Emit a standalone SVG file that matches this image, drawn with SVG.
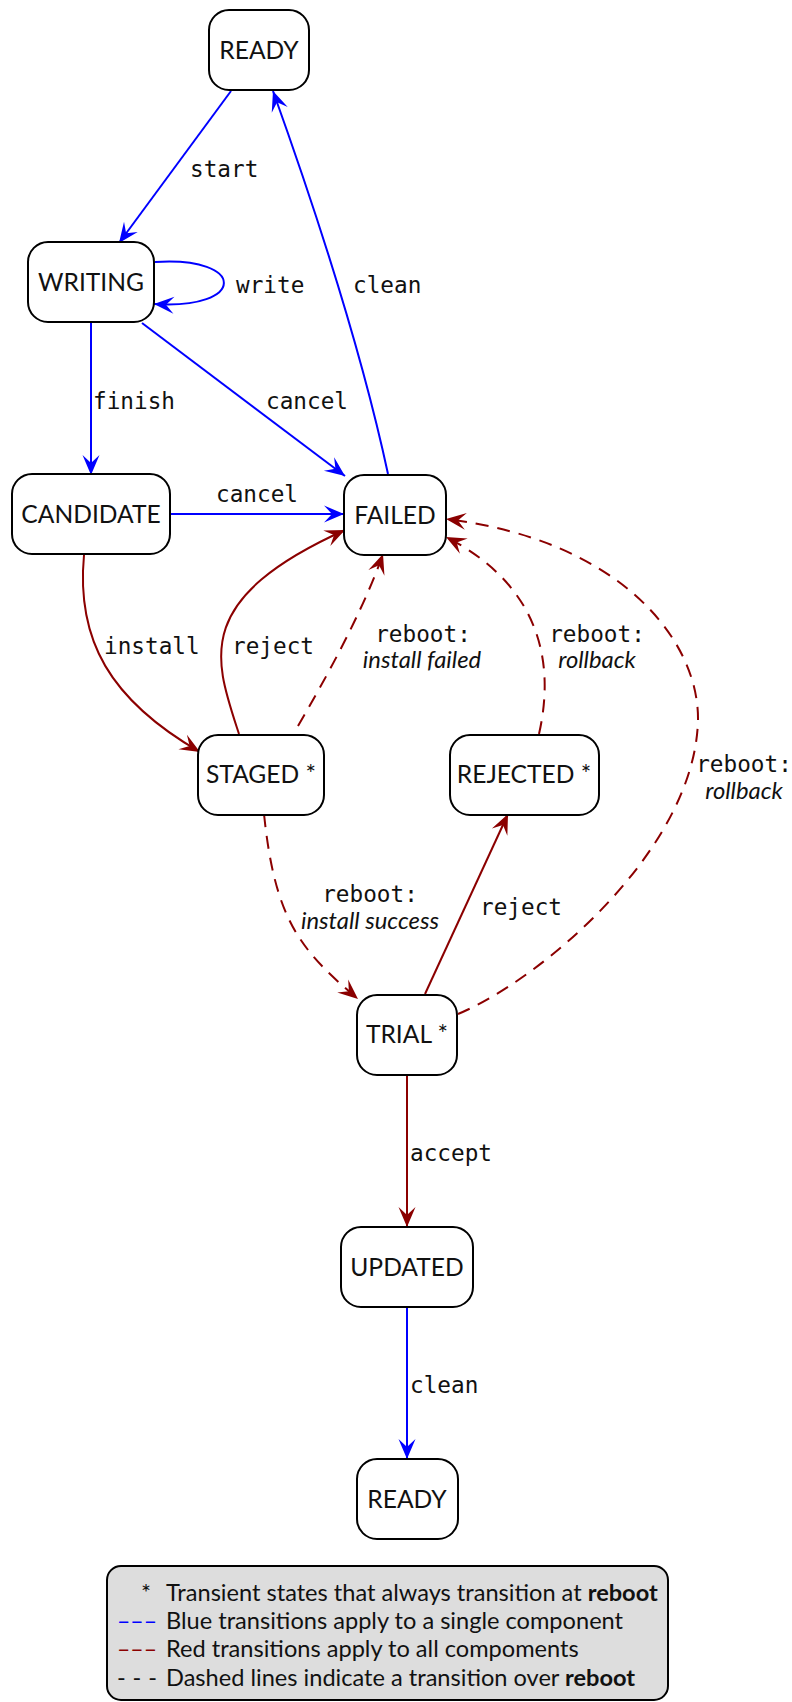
<svg xmlns="http://www.w3.org/2000/svg" width="792" height="1702" viewBox="0 0 792 1702">
<style>
.node rect{fill:#fff;stroke:#000;stroke-width:2}
.node text{font-family:Lato,"Liberation Sans",sans-serif;font-size:24.6px;text-anchor:middle;fill:#111}
.e{fill:none;stroke-width:2}
.b{stroke:#0000ff}
.r{stroke:#8b0000}
.d{stroke-dasharray:13,9}
.lbl{font-family:"DejaVu Sans Mono",monospace;font-size:22.7px;fill:#111}
.it{font-family:Lato,"Liberation Sans",sans-serif;font-style:italic;font-size:23.8px;fill:#111}
.c{text-anchor:middle}
.leg{font-family:Lato,"Liberation Sans",sans-serif;font-size:23.6px;fill:#111}
</style>
<defs>
<marker id="ab" viewBox="-22 -10 24 20" markerWidth="24" markerHeight="20" refX="0" refY="0" orient="auto" markerUnits="userSpaceOnUse"><path d="M0,0 L-20,-8.5 L-12,0 L-20,8.5 Z" fill="#0000ff"/></marker>
<marker id="ar" viewBox="-22 -10 24 20" markerWidth="24" markerHeight="20" refX="0" refY="0" orient="auto" markerUnits="userSpaceOnUse"><path d="M0,0 L-20,-8.5 L-12,0 L-20,8.5 Z" fill="#8b0000"/></marker>
</defs>
<g id="connectors">
<path class="e b" d="M231,91 L119,243" marker-end="url(#ab)"/>
<path class="e b" d="M155,262 C247,256 247,310 154,304" marker-end="url(#ab)"/>
<path class="e b" d="M388,474 Q355,320 273,91" marker-end="url(#ab)"/>
<path class="e b" d="M91,323 L91,475" marker-end="url(#ab)"/>
<path class="e b" d="M142,323 L345,476" marker-end="url(#ab)"/>
<path class="e b" d="M170,514 L344,514" marker-end="url(#ab)"/>
<path class="e r" d="M84,555 C76,640 110,700 200,752" marker-end="url(#ar)"/>
<path class="e r" d="M239,734 C215,660 190,600 345,530" marker-end="url(#ar)"/>
<path class="e r d" d="M298,726 Q360,620 383,554" marker-end="url(#ar)"/>
<path class="e r d" d="M539,734 C558,650 530,580 446,537" marker-end="url(#ar)"/>
<path class="e r d" d="M458,1014 C540,980 695,850 698,720 C699,640 620,540 446,519" marker-end="url(#ar)"/>
<path class="e r d" d="M264,814 C275,920 300,950 358,999" marker-end="url(#ar)"/>
<path class="e r" d="M425,994 L508,814" marker-end="url(#ar)"/>
<path class="e r" d="M407,1075 L407,1227" marker-end="url(#ar)"/>
<path class="e b" d="M407,1307 L407,1459" marker-end="url(#ab)"/>
<text class="lbl" x="190" y="177">start</text>
<text class="lbl" x="236" y="293">write</text>
<text class="lbl" x="353" y="293">clean</text>
<text class="lbl" x="93" y="409">finish</text>
<text class="lbl" x="266" y="409">cancel</text>
<text class="lbl" x="216" y="502">cancel</text>
<text class="lbl" x="104" y="654">install</text>
<text class="lbl" x="232" y="654">reject</text>
<text class="lbl c" x="423" y="642">reboot:</text>
<text class="it c" x="422" y="668">install failed</text>
<text class="lbl c" x="597" y="642">reboot:</text>
<text class="it c" x="597" y="668">rollback</text>
<text class="lbl c" x="744" y="772">reboot:</text>
<text class="it c" x="744" y="799">rollback</text>
<text class="lbl c" x="370" y="902">reboot:</text>
<text class="it c" x="370" y="929">install success</text>
<text class="lbl" x="480" y="915">reject</text>
<text class="lbl" x="410" y="1161">accept</text>
<text class="lbl" x="410" y="1393">clean</text>
</g>
<g id="ready" class="node"><rect x="209" y="10" width="100" height="80" rx="20"/><text x="259" y="59">READY</text></g>
<g id="writing" class="node"><rect x="28" y="242" width="126" height="80" rx="20"/><text x="91" y="291">WRITING</text></g>
<g id="candidate" class="node"><rect x="12" y="474" width="158" height="80" rx="20"/><text x="91" y="523">CANDIDATE</text></g>
<g id="failed" class="node"><rect x="344" y="475" width="102" height="80" rx="20"/><text x="395" y="524">FAILED</text></g>
<g id="staged" class="node"><rect x="198" y="735" width="126" height="80" rx="20"/><text x="261" y="783">STAGED *</text></g>
<g id="rejected" class="node"><rect x="450" y="735" width="149" height="80" rx="20"/><text x="524" y="783">REJECTED *</text></g>
<g id="trial" class="node"><rect x="357" y="995" width="100" height="80" rx="20"/><text x="407" y="1043">TRIAL *</text></g>
<g id="updated" class="node"><rect x="341" y="1227" width="132" height="80" rx="20"/><text x="407" y="1276">UPDATED</text></g>
<g id="ready2" class="node"><rect x="357" y="1459" width="101" height="80" rx="20"/><text x="407" y="1508">READY</text></g>
<g id="legend">
<rect x="107" y="1566" width="561" height="134" rx="14" fill="#dddddd" stroke="#000" stroke-width="2"/>
<text class="leg" x="141" y="1601">*</text>
<text class="leg" x="166" y="1601">Transient states that always transition at <tspan font-weight="bold">reboot</tspan></text>
<text class="leg" x="117" y="1629" style="fill:#0000ff" textLength="40" lengthAdjust="spacingAndGlyphs">–––</text>
<text class="leg" x="166" y="1629">Blue transitions apply to a single component</text>
<text class="leg" x="117" y="1657" style="fill:#8b0000" textLength="40" lengthAdjust="spacingAndGlyphs">–––</text>
<text class="leg" x="166" y="1657">Red transitions apply to all compoments</text>
<text class="leg" x="117" y="1686" textLength="40">- - -</text>
<text class="leg" x="166" y="1686">Dashed lines indicate a transition over <tspan font-weight="bold">reboot</tspan></text>
</g>
</svg>
